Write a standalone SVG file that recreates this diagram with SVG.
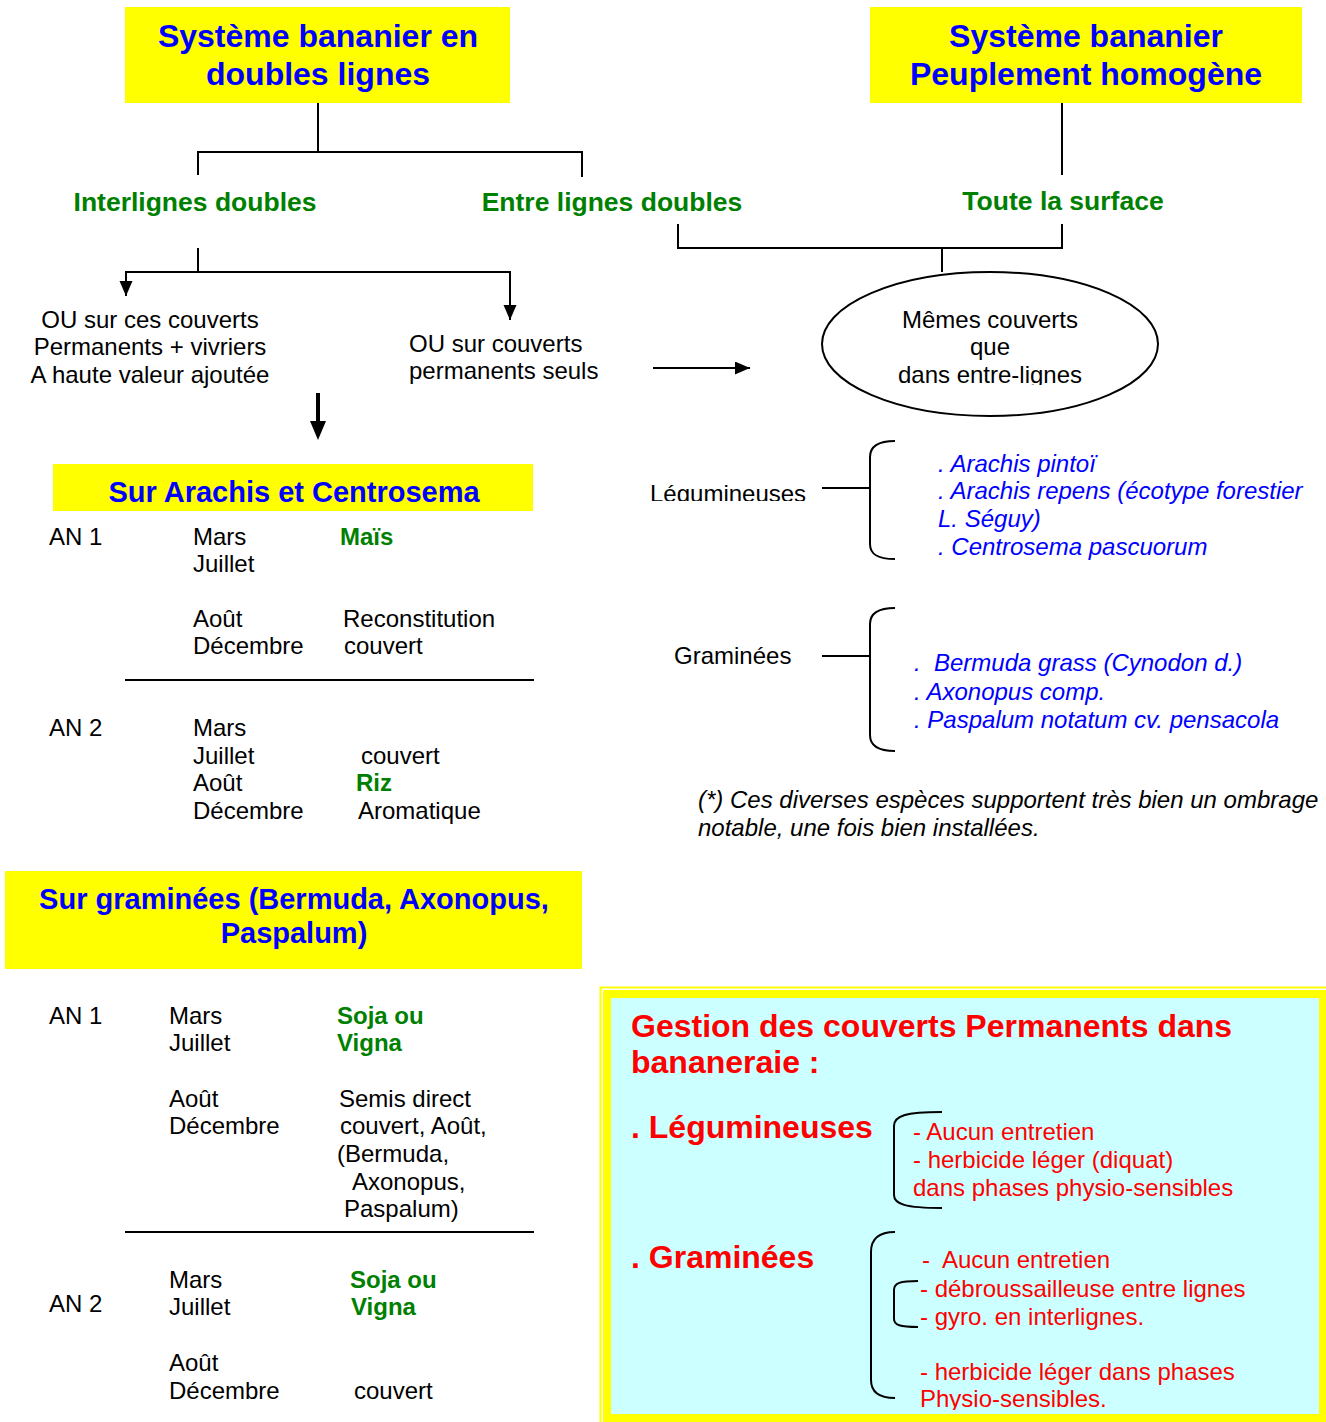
<svg xmlns="http://www.w3.org/2000/svg" width="1326" height="1422" viewBox="0 0 1326 1422">
<style>
text{font-family:"Liberation Sans",Arial,sans-serif;}
.t{font-size:32px;font-weight:bold;fill:#0000FF;text-anchor:middle;}
.s{font-size:29px;font-weight:bold;fill:#0000FF;text-anchor:middle;}
.g{font-size:26.5px;font-weight:bold;fill:#008000;text-anchor:middle;}
.b{font-size:24px;fill:#000;}
.gb{font-size:24px;font-weight:bold;fill:#008000;}
.bi{font-size:24px;font-style:italic;fill:#0000FF;}
.ki{font-size:24px;font-style:italic;fill:#000;}
.rh{font-size:32px;font-weight:bold;fill:#FF0000;}
.r{font-size:24px;fill:#FF0000;}
.c{text-anchor:middle;}
.pre{white-space:pre;}
.ln{stroke:#000;stroke-width:2;fill:none;}
.yb{fill:#FFFF00;}
</style>
<defs>
<marker id="ah" markerUnits="userSpaceOnUse" markerWidth="16" markerHeight="14" refX="15" refY="6.5" orient="auto">
<path d="M0,0 L15,6.5 L0,13 z" fill="#000"/>
</marker>
<clipPath id="clipEll"><rect x="822" y="272" width="340" height="113"/></clipPath>
<clipPath id="clipLeg"><rect x="640" y="470" width="180" height="31"/></clipPath>
<clipPath id="clipBox"><rect x="612" y="998" width="710" height="412"/></clipPath>
</defs>
<rect width="1326" height="1422" fill="#fff"/>

<g id="connectors">
<path class="ln" d="M318,103 V152 M198,175 V152 H582 V177"/>
<path class="ln" d="M1062,103 V175"/>
<path class="ln" d="M198,248 V272"/>
<path class="ln" d="M126,272 H510"/>
<line class="ln" x1="126" y1="271" x2="126" y2="296" marker-end="url(#ah)"/>
<line class="ln" x1="510" y1="271" x2="510" y2="320" marker-end="url(#ah)"/>
<path class="ln" d="M678,224 V248 H1062 V224 M942,248 V272"/>
<line class="ln" x1="653" y1="368" x2="750" y2="368" marker-end="url(#ah)"/>
<line x1="318" y1="393" x2="318" y2="424" stroke="#000" stroke-width="4"/>
<polygon points="310,421 326,421 318,440" fill="#000"/>
<path class="ln" d="M822,488 H870"/>
<path class="ln" d="M822,656 H870"/>
</g>

<g id="box-doubles">
<rect class="yb" x="125" y="7" width="385" height="96"/>
<text class="t" x="318" y="47">Système bananier en</text>
<text class="t" x="318" y="85">doubles lignes</text>
</g>

<g id="box-homogene">
<rect class="yb" x="870" y="7" width="432" height="96"/>
<text class="t" x="1086" y="47">Système bananier</text>
<text class="t" x="1086" y="85">Peuplement homogène</text>
</g>

<g id="lbl-interlignes"><text class="g" x="195" y="211">Interlignes doubles</text></g>
<g id="lbl-entre"><text class="g" x="612" y="211">Entre lignes doubles</text></g>
<g id="lbl-toute"><text class="g" x="1063" y="210">Toute la surface</text></g>

<g id="ou-ces">
<text class="b c" x="150" y="328">OU sur ces couverts</text>
<text class="b c" x="150" y="355">Permanents + vivriers</text>
<text class="b c" x="150" y="383">A haute valeur ajoutée</text>
</g>

<g id="ou-perm">
<text class="b" x="409" y="352">OU sur couverts</text>
<text class="b" x="409" y="379">permanents seuls</text>
</g>

<g id="ellipse">
<ellipse cx="990" cy="344" rx="168" ry="72" fill="#fff" stroke="#000" stroke-width="2"/>
<g clip-path="url(#clipEll)">
<text class="b c" x="990" y="328">Mêmes couverts</text>
<text class="b c" x="990" y="355">que</text>
<text class="b c" x="990" y="383">dans entre-lignes</text>
</g>
</g>

<g id="legumineuses">
<text class="b" x="650" y="502" clip-path="url(#clipLeg)">Légumineuses</text>
<path class="ln" d="M895,441 C877,441 870,447 870,457 V544 C870,554 877,559 895,559"/>
<text class="bi" x="938" y="472">. Arachis pintoï</text>
<text class="bi" x="938" y="499">. Arachis repens (écotype forestier</text>
<text class="bi" x="938" y="527">L. Séguy)</text>
<text class="bi" x="938" y="555">. Centrosema pascuorum</text>
</g>

<g id="graminees">
<text class="b" x="674" y="664">Graminées</text>
<path class="ln" d="M895,608 C877,608 870,614 870,624 V735 C870,745 877,751 895,751"/>
<text class="bi pre" x="914" y="671" xml:space="preserve">.  Bermuda grass (Cynodon d.)</text>
<text class="bi" x="914" y="700">. Axonopus comp.</text>
<text class="bi" x="914" y="728">. Paspalum notatum cv. pensacola</text>
</g>

<g id="footnote">
<text class="ki" x="698" y="808">(*) Ces diverses espèces supportent très bien un ombrage</text>
<text class="ki" x="698" y="836">notable, une fois bien installées.</text>
</g>

<g id="box-arachis">
<rect class="yb" x="53" y="464" width="480" height="47"/>
<text class="s" x="294" y="502">Sur Arachis et Centrosema</text>
</g>

<g id="table-arachis">
<text class="b" x="49" y="545">AN 1</text>
<text class="b" x="193" y="545">Mars</text>
<text class="b" x="193" y="572">Juillet</text>
<text class="gb" x="340" y="545">Maïs</text>
<text class="b" x="193" y="627">Août</text>
<text class="b" x="193" y="654">Décembre</text>
<text class="b" x="343" y="627">Reconstitution</text>
<text class="b" x="344" y="654">couvert</text>
<line class="ln" x1="125" y1="680" x2="534" y2="680"/>
<text class="b" x="49" y="736">AN 2</text>
<text class="b" x="193" y="736">Mars</text>
<text class="b" x="193" y="764">Juillet</text>
<text class="b" x="193" y="791">Août</text>
<text class="b" x="193" y="819">Décembre</text>
<text class="b" x="361" y="764">couvert</text>
<text class="gb" x="356" y="791">Riz</text>
<text class="b" x="358" y="819">Aromatique</text>
</g>

<g id="box-graminees">
<rect class="yb" x="5" y="871" width="577" height="98"/>
<text class="s" x="294" y="909">Sur graminées (Bermuda, Axonopus,</text>
<text class="s" x="294" y="943">Paspalum)</text>
</g>

<g id="table-graminees">
<text class="b" x="49" y="1024">AN 1</text>
<text class="b" x="169" y="1024">Mars</text>
<text class="b" x="169" y="1051">Juillet</text>
<text class="gb" x="337" y="1024">Soja ou</text>
<text class="gb" x="337" y="1051">Vigna</text>
<text class="b" x="169" y="1107">Août</text>
<text class="b" x="169" y="1134">Décembre</text>
<text class="b" x="339" y="1107">Semis direct</text>
<text class="b" x="340" y="1134">couvert, Août,</text>
<text class="b" x="337" y="1162">(Bermuda,</text>
<text class="b" x="352" y="1190">Axonopus,</text>
<text class="b" x="344" y="1217">Paspalum)</text>
<line class="ln" x1="125" y1="1232" x2="534" y2="1232"/>
<text class="b" x="169" y="1288">Mars</text>
<text class="b" x="49" y="1312">AN 2</text>
<text class="b" x="169" y="1315">Juillet</text>
<text class="gb" x="350" y="1288">Soja ou</text>
<text class="gb" x="351" y="1315">Vigna</text>
<text class="b" x="169" y="1371">Août</text>
<text class="b" x="169" y="1399">Décembre</text>
<text class="b" x="354" y="1399">couvert</text>
</g>

<g id="box-gestion">
<rect x="600.5" y="987.5" width="730" height="440" fill="none" stroke="#FFFF00" stroke-width="2"/>
<rect x="607" y="994" width="716" height="424" fill="#CCFFFF" stroke="#FFFF00" stroke-width="8"/>
<g clip-path="url(#clipBox)">
<text class="rh" x="631" y="1037">Gestion des couverts Permanents dans</text>
<text class="rh" x="631" y="1073">bananeraie :</text>
<text class="rh" x="631" y="1138">. Légumineuses</text>
<path class="ln" d="M942,1112 C905,1112 894,1116 894,1126 V1195 C894,1204 905,1208 942,1208"/>
<text class="r" x="913" y="1140">- Aucun entretien</text>
<text class="r" x="913" y="1168">- herbicide léger (diquat)</text>
<text class="r" x="913" y="1196">dans phases physio-sensibles</text>
<text class="rh" x="631" y="1268">. Graminées</text>
<path class="ln" d="M895,1232 C878,1232 871,1240 871,1252 V1380 C871,1391 878,1398 895,1398"/>
<path class="ln" d="M918,1281 C900,1281 894,1283 894,1290 V1319 C894,1325 900,1327 918,1327"/>
<text class="r pre" x="922" y="1268" xml:space="preserve">-  Aucun entretien</text>
<text class="r" x="920" y="1297">- débroussailleuse entre lignes</text>
<text class="r" x="920" y="1325">- gyro. en interlignes.</text>
<text class="r" x="920" y="1380">- herbicide léger dans phases</text>
<text class="r" x="920" y="1407">Physio-sensibles.</text>
</g>
</g>
</svg>
